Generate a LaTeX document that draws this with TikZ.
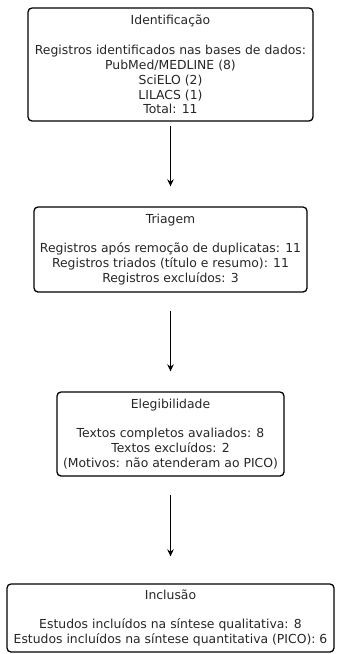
\documentclass[tikz,border=0pt]{standalone}
\usepackage{fontspec}
\setmainfont{DejaVu Sans}
\usetikzlibrary{arrows.meta}
\definecolor{txt}{HTML}{262626}
\begin{document}
\begin{tikzpicture}[x=1pt,y=-1pt,
  box/.style={draw=black, line width=1.3pt, rounded corners=4pt, align=center,
    text=txt, inner sep=0pt, font=\fontsize{12.4pt}{14.9pt}\selectfont},
  flow/.style={-{Stealth[length=7pt,width=6.5pt]}, line width=1.6pt}]
\useasboundingbox (0,0) rectangle (340,654);
\node[box, minimum width=285pt, minimum height=113pt] (b1) at (170.5,64.5)
  {Identificação\\[14.9pt]Registros identificados nas bases de dados:\\PubMed/MEDLINE (8)\\SciELO (2)\\LILACS (1)\\Total: 11};
\node[box, minimum width=273pt, minimum height=85pt] (b2) at (170.5,249.5)
  {Triagem\\[14.9pt]Registros após remoção de duplicatas: 11\\Registros triados (título e resumo): 11\\Registros excluídos: 3};
\node[box, minimum width=227pt, minimum height=84pt] (b3) at (170.5,434)
  {Elegibilidade\\[14.9pt]Textos completos avaliados: 8\\Textos excluídos: 2\\(Motivos: não atenderam ao PICO)};
\node[box, minimum width=327pt, minimum height=68pt] (b4) at (170.5,618)
  {Inclusão\\[14.9pt]Estudos incluídos na síntese qualitativa: 8\\Estudos incluídos na síntese quantitativa (PICO): 6};
\draw[flow, shorten <=4pt, shorten >=20pt] (b1.south) -- (b2.north);
\draw[flow, shorten <=18pt, shorten >=20pt] (b2.south) -- (b3.north);
\draw[flow, shorten <=18pt, shorten >=27pt] (b3.south) -- (b4.north);
\end{tikzpicture}
\end{document}
